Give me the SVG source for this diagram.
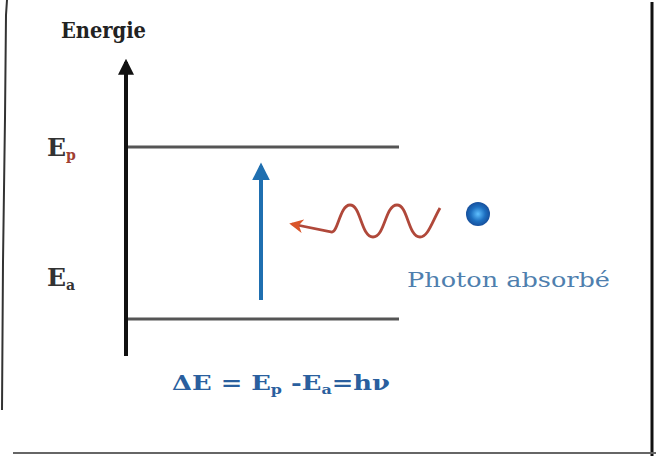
<svg xmlns="http://www.w3.org/2000/svg" width="656" height="456" viewBox="0 0 656 456">
<defs>
<style>
.t{font-family:"DejaVu Serif","Liberation Serif",serif;font-weight:bold}
.lvl{stroke:#555;stroke-width:3}
.frame{fill:none;stroke:#333;stroke-width:2}
</style>
<marker id="ah" viewBox="0 0 10 10" refX="8" refY="5" markerWidth="4" markerHeight="4" orient="auto"><path d="M0,0L10,5L0,10z" fill="#111"/></marker>
<marker id="ahb" viewBox="0 0 10 10" refX="8" refY="5" markerWidth="4.5" markerHeight="4.5" orient="auto"><path d="M0,0L10,5L0,10z" fill="#1f6fb0"/></marker>
<marker id="ahr" viewBox="0 0 10 10" refX="8" refY="5" markerWidth="5" markerHeight="5" orient="auto"><path d="M0,0L10,5L0,10L3,5z" fill="#d9552a"/></marker>
<radialGradient id="g" cx="0.5" cy="0.5" r="0.5"><stop offset="0" stop-color="#5fc0ff"/><stop offset="0.6" stop-color="#1d6fc0"/><stop offset="1" stop-color="#164f9c"/></radialGradient>
</defs>
<rect width="656" height="456" fill="#fff"/>
<g id="frame">
<path class="frame" d="M7,0L6,15L5,118L3,262L2,410"/>
<line x1="652" y1="2" x2="652" y2="456" stroke="#111" stroke-width="3"/>
<line x1="13" y1="453" x2="656" y2="453" stroke="#666" stroke-width="2"/>
</g>
<g id="axis">
<line x1="126" y1="356" x2="126" y2="62" stroke="#111" stroke-width="4" marker-end="url(#ah)"/>
<text class="t" x="61" y="38" font-size="22" fill="#222" textLength="85" lengthAdjust="spacingAndGlyphs">Energie</text>
</g>
<g id="level-p">
<line class="lvl" x1="128" y1="147" x2="399" y2="147" stroke="#666"/>
<text class="t" x="47" y="156" font-size="25" fill="#333">E<tspan font-size="14" dy="4" fill="#a04030">p</tspan></text>
</g>
<g id="level-a">
<line class="lvl" x1="128" y1="319" x2="399" y2="319" stroke="#444"/>
<text class="t" x="47" y="286" font-size="25" fill="#333">E<tspan font-size="14" dy="4">a</tspan></text>
</g>
<g id="connectors">
<line x1="261" y1="300" x2="261" y2="166" stroke="#1f6fb0" stroke-width="4" marker-end="url(#ahb)"/>
<path d="M440,208 C432,222 428,237 420,237 C408,237 408,205 397,205 C385,205 385,237 373,237 C361,237 361,205 350,205 C340,205 338,232 332,232 L292,224" fill="none" stroke="#b0483a" stroke-width="2.8" marker-end="url(#ahr)"/>
</g>
<g id="photon">
<circle cx="478" cy="214" r="12" fill="url(#g)"/>
<text x="407" y="287" font-family="DejaVu Serif, Liberation Serif, serif" font-size="20" fill="#4f7fae" textLength="203" lengthAdjust="spacingAndGlyphs">Photon absorbé</text>
</g>
<g id="formula">
<text class="t" x="172" y="390" font-size="21" fill="#2a5f9e" textLength="218" lengthAdjust="spacingAndGlyphs">ΔE = E<tspan font-size="13" dy="4">p</tspan><tspan dy="-4"> -E</tspan><tspan font-size="13" dy="4">a</tspan><tspan dy="-4">=hν</tspan></text>
</g>
</svg>
